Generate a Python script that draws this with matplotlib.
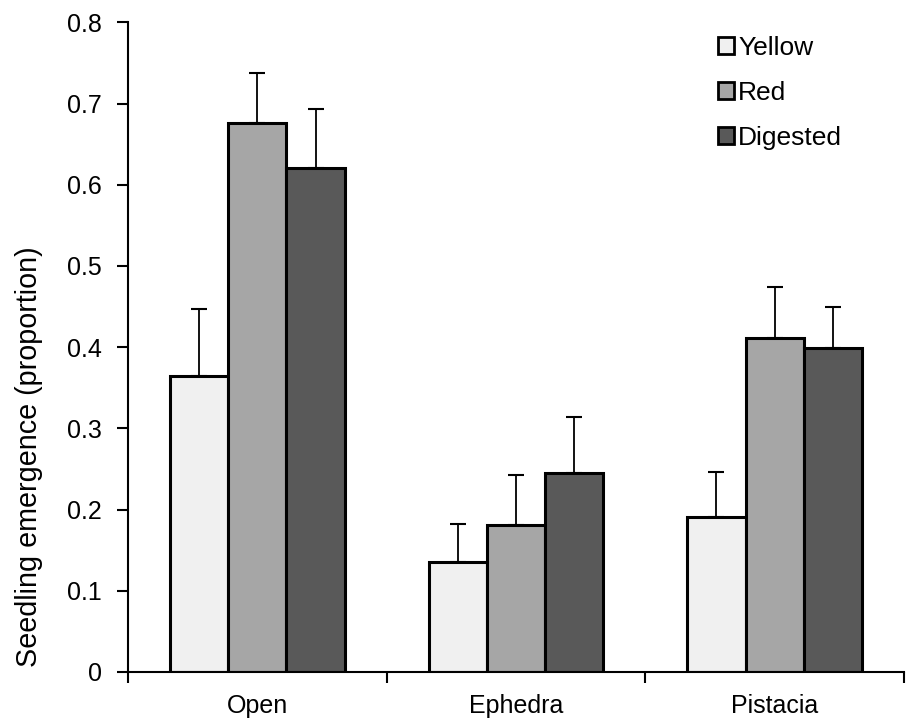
import matplotlib
matplotlib.use("Agg")
import matplotlib.pyplot as plt
import numpy as np

plt.rcParams['font.family'] = ['Liberation Sans', 'DejaVu Sans']

categories = ["Open", "Ephedra", "Pistacia"]
series_names = ["Yellow", "Red", "Digested"]
yellow = [0.365, 0.135, 0.191]
red = [0.676, 0.181, 0.411]
digested = [0.621, 0.245, 0.399]
yellow_err = [0.082, 0.047, 0.055]
red_err = [0.061, 0.061, 0.063]
digested_err = [0.072, 0.069, 0.051]
colors = ["#f0f0f0", "#a6a6a6", "#595959"]
yticks = [0, 0.1, 0.2, 0.3, 0.4, 0.5, 0.6, 0.7, 0.8]
ytick_labels = ["0", "0.1", "0.2", "0.3", "0.4", "0.5", "0.6", "0.7", "0.8"]

fig = plt.figure(figsize=(9.08, 7.19), dpi=100)
ax = fig.add_axes([0.141, 0.0654, 0.8546, 0.9036])

x = np.arange(len(categories))
w = 0.225
vals = [yellow, red, digested]
errs = [yellow_err, red_err, digested_err]
for i, (v, e, c, n) in enumerate(zip(vals, errs, colors, series_names)):
    pos = x + (i - 1) * w
    ax.bar(pos, v, width=w, color=c, edgecolor='black', linewidth=2.2, label=n, zorder=2)
    ax.errorbar(pos, v, yerr=[np.zeros(len(v)), e], fmt='none', ecolor='black',
                elinewidth=1.3, capsize=5.8, capthick=1.5, zorder=1)

ax.set_xlim(-0.5, 2.5)
ax.set_ylim(0, 0.8)
ax.set_yticks(yticks)
ax.set_yticklabels(ytick_labels, fontsize=18)
ax.set_xticks(x)
ax.set_xticklabels(categories, fontsize=18)
ax.set_xticks([-0.5, 0.5, 1.5, 2.5], minor=True)
ax.tick_params(axis='x', which='major', length=0, pad=16)
ax.tick_params(axis='x', which='minor', length=8, width=1.5, direction='out')
ax.tick_params(axis='y', length=8, width=1.5, direction='out', pad=11)
for s in ['top', 'right']:
    ax.spines[s].set_visible(False)
for s in ['left', 'bottom']:
    ax.spines[s].set_linewidth(1.5)
ax.set_ylabel("Seedling emergence (proportion)", fontsize=20.7)
ax.yaxis.set_label_coords(-0.110, 0.331)

leg = ax.legend(loc='upper left', bbox_to_anchor=(0.791, 0.950), bbox_transform=fig.transFigure,
                frameon=False, fontsize=19, borderpad=0, borderaxespad=0,
                handlelength=0.6, handleheight=0.6, handletextpad=0.15, labelspacing=0.80)
for h in leg.legend_handles:
    h.set_linewidth(2)

fig.savefig("out.png", dpi=100)
